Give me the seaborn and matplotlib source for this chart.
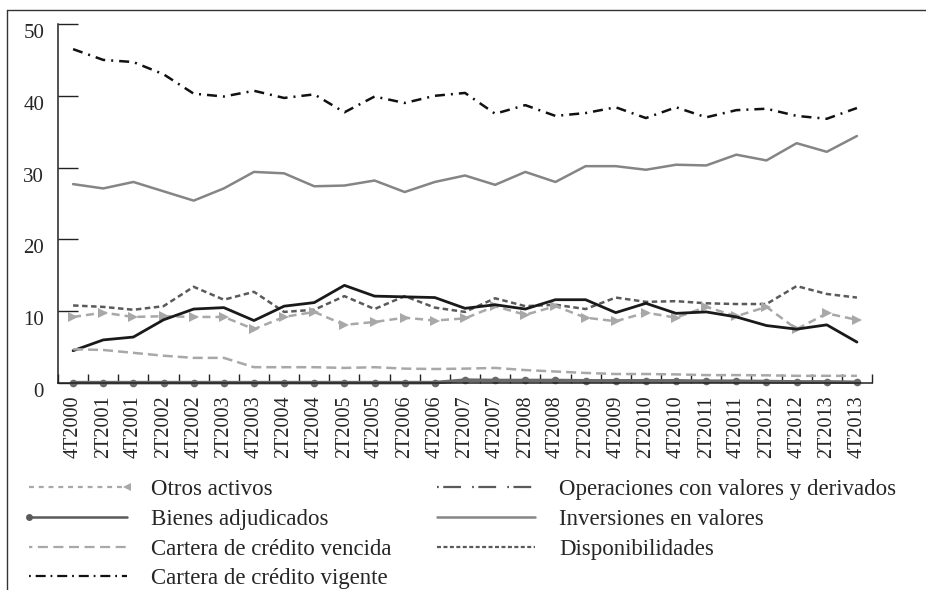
import matplotlib
matplotlib.use("Agg")
import matplotlib.pyplot as plt
from matplotlib.lines import Line2D
import numpy as np
import seaborn as sns

# Periods (semiannual)
periods = ['4T2000', '2T2001', '4T2001', '2T2002', '4T2002', '2T2003', '4T2003',
           '2T2004', '4T2004', '2T2005', '4T2005', '2T2006', '4T2006', '2T2007',
           '4T2007', '2T2008', '4T2008', '2T2009', '4T2009', '2T2010', '4T2010',
           '2T2011', '4T2011', '2T2012', '4T2012', '2T2013', '4T2013']

# Series values (share of total assets, %)
cartera_vigente = [46.5, 45.0, 44.7, 43.0, 40.3, 39.9, 40.7, 39.7, 40.2, 37.7, 39.9, 39.0, 40.0, 40.4,
                   37.5, 38.7, 37.2, 37.6, 38.4, 36.9, 38.4, 37.0, 38.0, 38.2, 37.2, 36.8, 38.3]
inversiones = [27.7, 27.1, 28.0, 26.7, 25.4, 27.1, 29.4, 29.2, 27.4, 27.5, 28.2, 26.6, 28.0, 28.9,
               27.6, 29.4, 28.0, 30.2, 30.2, 29.7, 30.4, 30.3, 31.8, 31.0, 33.4, 32.2, 34.4]
operaciones = [4.5, 6.0, 6.4, 8.8, 10.3, 10.5, 8.7, 10.7, 11.2, 13.6, 12.1, 12.0, 11.9, 10.4,
               10.9, 10.3, 11.6, 11.6, 9.8, 11.1, 9.7, 9.9, 9.2, 8.0, 7.5, 8.1, 5.7]
disponibilidades = [10.8, 10.6, 10.2, 10.7, 13.4, 11.6, 12.7, 9.9, 10.2, 12.1, 10.3, 12.1, 10.5, 9.9,
                    11.8, 10.7, 10.9, 10.3, 11.9, 11.3, 11.4, 11.1, 11.0, 11.0, 13.5, 12.4, 11.9]
otros_activos = [9.2, 9.8, 9.2, 9.3, 9.2, 9.2, 7.5, 9.2, 9.9, 8.1, 8.5, 9.1, 8.7, 9.0,
                 10.7, 9.5, 10.7, 9.1, 8.6, 9.8, 9.1, 10.6, 9.3, 10.6, 7.5, 9.7, 8.8]
cartera_vencida = [4.7, 4.6, 4.2, 3.8, 3.5, 3.5, 2.2, 2.2, 2.2, 2.1, 2.2, 2.0, 1.95, 2.0,
                   2.1, 1.8, 1.6, 1.4, 1.25, 1.25, 1.2, 1.1, 1.1, 1.07, 1.0, 1.0, 1.0]
bienes = [0.05, 0.05, 0.05, 0.05, 0.05, 0.05, 0.05, 0.05, 0.05, 0.05, 0.05, 0.05, 0.05, 0.4,
          0.35, 0.35, 0.35, 0.3, 0.3, 0.3, 0.3, 0.25, 0.25, 0.2, 0.15, 0.15, 0.1]

sns.set_style('ticks')
plt.rcParams['font.family'] = ['Liberation Serif', 'DejaVu Serif']

fig = plt.figure(figsize=(9.26, 5.90), dpi=100)
ax = fig.add_axes([58 / 926, 1 - 383 / 590, (872 - 58) / 926, (383 - 24) / 590])

x = np.arange(len(periods))

sns.lineplot(x=x, y=cartera_vigente, ax=ax, color='#111111', lw=1.8,
             linestyle=(0, (4, 2.4, 0.8, 2.4)))
sns.lineplot(x=x, y=inversiones, ax=ax, color='#858585', lw=1.8)
sns.lineplot(x=x, y=disponibilidades, ax=ax, color='#5a5a5a', lw=1.8,
             linestyle=(0, (2.2, 1.4)))
sns.lineplot(x=x, y=otros_activos, ax=ax, color='#a8a8a8', lw=1.8,
             linestyle=(0, (3.2, 2)), marker='>', markersize=7, markeredgewidth=0)
sns.lineplot(x=x, y=operaciones, ax=ax, color='#1a1a1a', lw=2)
sns.lineplot(x=x, y=cartera_vencida, ax=ax, color='#a8a8a8', lw=1.8,
             linestyle=(0, (4, 2)))
sns.lineplot(x=x, y=bienes, ax=ax, color='#6a6a6a', lw=2.6, marker='o',
             markersize=5.5, markeredgewidth=0, clip_on=False)

ax.set_xlim(-0.5, len(periods) - 0.5)
ax.set_ylim(0, 50)
ax.set_yticks(range(0, 51, 10))
ax.set_xticks(x)
ax.set_xticklabels(periods, rotation=90)
ax.set_xticks(np.arange(-0.5, len(periods), 1), minor=True)

ax.tick_params(axis='y', direction='in', length=14.5, width=1, pad=10,
               labelsize=15, color='#222222')
ax.tick_params(axis='x', which='major', length=0, pad=9, labelsize=14.5)
ax.tick_params(axis='x', which='minor', direction='in', length=6.5, width=1,
               color='#222222')
for lab in ax.get_yticklabels():
    lab.set_verticalalignment('top')
for lab in ax.get_xticklabels():
    lab.set_verticalalignment('top')

sns.despine(ax=ax)
for side in ['left', 'bottom']:
    ax.spines[side].set_color('#222222')
    ax.spines[side].set_linewidth(1.1)
ax.grid(False)

# Legend (two blocks, styled as in the source legend)
h_otros = Line2D([], [], color='#a8a8a8', lw=1.6, linestyle=(0, (2.2, 2.2)),
                 marker='<', markersize=6, markeredgewidth=0)
h_bienes = Line2D([], [], color='#5a5a5a', lw=1.8, marker='o', markersize=5,
                  markeredgewidth=0)
h_vencida = Line2D([], [], color='#a8a8a8', lw=1.6, linestyle=(3, (4.5, 2.5)))
h_vigente = Line2D([], [], color='#111111', lw=1.6, linestyle=(0, (0.8, 2.2, 4.5, 2.2)))
h_oper = Line2D([], [], color='#5a5a5a', lw=1.6, linestyle=(0, (0.8, 2, 8, 5)))
h_inv = Line2D([], [], color='#858585', lw=1.8)
h_disp = Line2D([], [], color='#5a5a5a', lw=1.6, linestyle=(0, (1.8, 1.1)))

leg_kw = dict(frameon=False, fontsize=16.5, handlelength=4.9, handletextpad=0.75,
              labelspacing=0.38, borderpad=0, borderaxespad=0, numpoints=2,
              loc='upper left', bbox_transform=fig.transFigure)
leg1 = fig.legend([h_otros, h_bienes, h_vencida, h_vigente],
                  ['Otros activos', 'Bienes adjudicados', 'Cartera de crédito vencida',
                   'Cartera de crédito vigente'],
                  bbox_to_anchor=(22 / 926, 1 - 479 / 590), **leg_kw)
fig.legend([h_oper, h_inv, h_disp],
           ['Operaciones con valores y derivados', 'Inversiones en valores',
            'Disponibilidades'],
           bbox_to_anchor=(430 / 926, 1 - 479 / 590), **leg_kw)
# marker only at one end of the legend sample, as in the source
leg1.legend_handles[0].set_markevery([1])
leg1.legend_handles[1].set_markevery([0])

# Outer frame of the cropped page
fig.add_artist(Line2D([7 / 926, 1], [1 - 10 / 590, 1 - 10 / 590],
                      transform=fig.transFigure, color='#333333', lw=1))
fig.add_artist(Line2D([7 / 926, 7 / 926], [0, 1 - 10 / 590],
                      transform=fig.transFigure, color='#333333', lw=1))

fig.savefig('out.png', dpi=100, facecolor='white')
